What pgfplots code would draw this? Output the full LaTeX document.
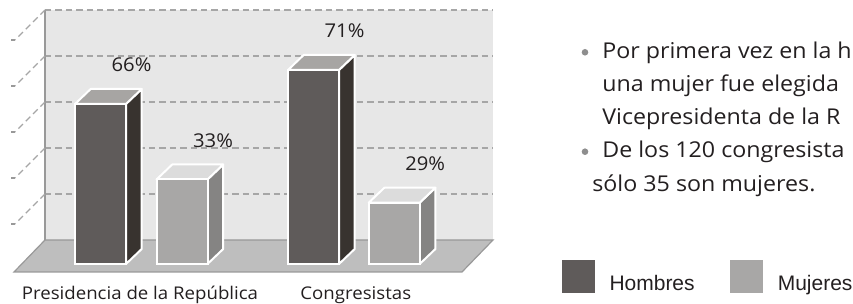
\documentclass[border=0pt]{standalone}
\usepackage{pgfplots}
\pgfplotsset{compat=1.18}
\usepackage{fontspec}
\setmainfont{Open Sans}[FakeStretch=1.065]
\newfontfamily\lsans{Liberation Sans}
\definecolor{hfront}{HTML}{5F5B5A}
\definecolor{hside}{HTML}{38332F}
\definecolor{htop}{HTML}{A7A5A3}
\definecolor{mfront}{HTML}{A8A7A6}
\definecolor{mside}{HTML}{858483}
\definecolor{mtop}{HTML}{DCDCDC}
\definecolor{wallc}{HTML}{E7E7E7}
\definecolor{floorc}{HTML}{BEBEBE}
\definecolor{gridc}{HTML}{A6A6A6}
\definecolor{txt}{HTML}{231F20}
\definecolor{edgec}{HTML}{999999}
\definecolor{bulletc}{HTML}{8E8E8E}

% side and top faces of a 3D bar: centre x, height, side colour, top colour
\newcommand\boxfaces[4]{%
  \pgfmathsetmacro\bxr{#1+25.5}%
  \pgfmathsetmacro\bxl{#1-25.5}%
  \pgfmathsetmacro\bxrb{#1+25.5+15.7}%
  \pgfmathsetmacro\bxlb{#1-25.5+15.7}%
  \pgfmathsetmacro\bht{#2+6.52}%
  \edef\tmp{\noexpand\addplot[forget plot,fill=#3,draw=white,line width=1pt,line join=round] coordinates {(\bxr,0) (\bxrb,6.52) (\bxrb,\bht) (\bxr,#2)} -- cycle;}\tmp
  \edef\tmp{\noexpand\addplot[forget plot,fill=#4,draw=white,line width=1pt,line join=round] coordinates {(\bxl,#2) (\bxr,#2) (\bxrb,\bht) (\bxlb,\bht)} -- cycle;}\tmp
}
\pgfplotsset{
  hleg/.style={legend image code/.code={\fill[hfront] (0pt,-4.3pt) rectangle (16pt,11.7pt);}},
  mleg/.style={legend image code/.code={\fill[mfront] (0pt,-4.3pt) rectangle (16pt,11.7pt);}},
  gridline/.style={forget plot,gridc,line width=0.65pt,dash pattern=on 3.2pt off 2pt},
}

\begin{document}
\begin{tikzpicture}
\useasboundingbox (0,0) rectangle (426.5pt,152pt);
\clip (0,0) rectangle (426.5pt,152pt);
\begin{axis}[
  at={(0pt,20pt)}, anchor=south west,
  x=0.5pt, y=1.15pt,
  xmin=0, xmax=500, ymin=0, ymax=115,
  clip=false,
  axis line style={draw=none}, tick style={draw=none},
  ytick=\empty,
  xtick={140,355.8},
  xticklabels={Presidencia de la República, Congresistas},
  xticklabel style={anchor=base, yshift=-17.8pt, inner sep=0pt, text=txt, font=\fontsize{8.75}{10}\selectfont},
  legend columns=2,
  legend style={at={(axis cs:561.7,-5.52)}, anchor=west, draw=none, fill=none,
    inner sep=0pt, outer sep=0pt, text=txt, font=\lsans\fontsize{10.5}{12}\selectfont,
    nodes={inner sep=0pt},
    /tikz/every odd column/.append style={column sep=7.5pt},
    /tikz/every even column/.append style={column sep=17.65pt}},
]
% back wall
\addplot[forget plot,fill=wallc,draw=none] coordinates {(45,10.435) (493,10.435) (493,110.435) (45,110.435)} -- cycle;
% wall grid lines
\addplot[gridline] coordinates {(45,110.435) (493,110.435)};
\addplot[gridline] coordinates {(45,90.435) (493,90.435)};
\addplot[gridline] coordinates {(45,70.435) (493,70.435)};
\addplot[gridline] coordinates {(45,50.435) (493,50.435)};
\addplot[gridline] coordinates {(45,30.435) (493,30.435)};
% left edge of wall
\addplot[forget plot,edgec,line width=0.6pt] coordinates {(45,10.435) (45,110.435)};
% side grid lines and ticks
\addplot[gridline] coordinates {(45,110.435) (15,97.391)};
\addplot[gridline] coordinates {(45,90.435) (15,77.391)};
\addplot[gridline] coordinates {(45,70.435) (15,57.391)};
\addplot[gridline] coordinates {(45,50.435) (15,37.391)};
\addplot[gridline] coordinates {(45,30.435) (15,17.391)};
\addplot[forget plot,edgec,line width=0.6pt] coordinates {(11,97.391) (15,97.391)};
\addplot[forget plot,edgec,line width=0.6pt] coordinates {(11,77.391) (15,77.391)};
\addplot[forget plot,edgec,line width=0.6pt] coordinates {(11,57.391) (15,57.391)};
\addplot[forget plot,edgec,line width=0.6pt] coordinates {(11,37.391) (15,37.391)};
\addplot[forget plot,edgec,line width=0.6pt] coordinates {(11,17.391) (15,17.391)};
% floor
\addplot[forget plot,fill=floorc,draw=edgec,line width=0.6pt] coordinates {(45,10.435) (493,10.435) (462,-3.478) (14,-3.478)} -- cycle;
% bars
\boxfaces{100.5}{69.57}{hside}{htop}
\boxfaces{182}{36.74}{mside}{mtop}
\boxfaces{313.5}{84.35}{hside}{htop}
\boxfaces{394.2}{26.65}{mside}{mtop}
\addplot[ybar, bar shift=0pt, bar width=25.5pt, fill=hfront, draw=white, line width=1pt, forget plot,
  point meta=explicit symbolic, nodes near coords,
  nodes near coords style={anchor=center, xshift=15.5pt, yshift=19.5pt, inner sep=0pt, text=txt, font=\fontsize{9.5}{11}\selectfont}]
  coordinates {(100.5,69.57) [66\%] (313.5,84.35) [71\%]};
\addplot[ybar, bar shift=0pt, bar width=25.5pt, fill=mfront, draw=white, line width=1pt, forget plot,
  point meta=explicit symbolic, nodes near coords,
  nodes near coords style={anchor=center, xshift=15.5pt, yshift=19.5pt, inner sep=0pt, text=txt, font=\fontsize{9.5}{11}\selectfont}]
  coordinates {(182,36.74) [33\%] (394.2,26.65) [29\%]};
\addlegendimage{hleg}
\addlegendentry{Hombres}
\addlegendimage{mleg}
\addlegendentry{Mujeres}
\end{axis}
% notes on the right
\fill[bulletc] (292.5pt,125.85pt) circle (1.65pt);
\fill[bulletc] (292.5pt,76.15pt) circle (1.65pt);
\begin{scope}[every node/.style={anchor=base west, inner sep=0pt, text=txt, font=\fontsize{10.9}{13}\selectfont}]
\node at (301pt,122.85pt) {Por primera vez en la h};
\node at (301pt,106pt) {una mujer fue elegida};
\node at (301pt,89.5pt) {Vicepresidenta de la R};
\node at (301pt,73.15pt) {De los 120 congresista};
\node at (296pt,56.15pt) {sólo 35 son mujeres.};
\end{scope}
\end{tikzpicture}
\end{document}
